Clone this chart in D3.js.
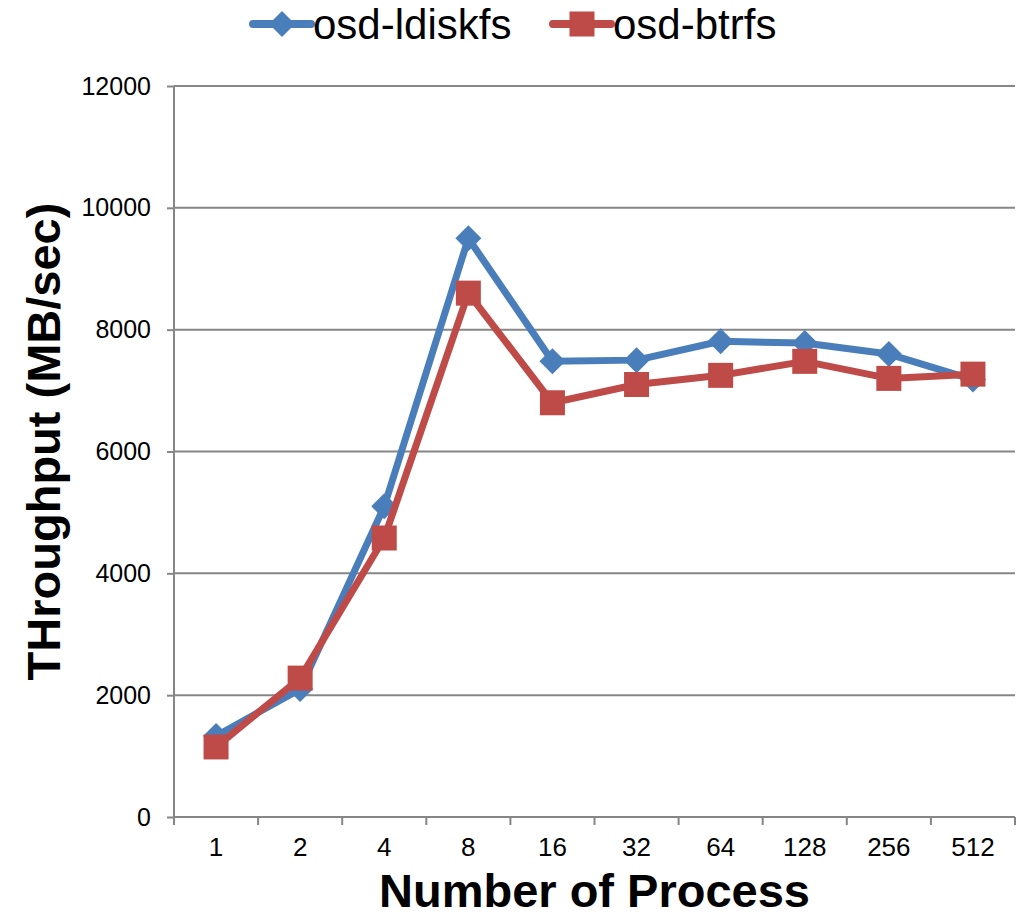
<!DOCTYPE html>
<html>
<head>
<meta charset="utf-8">
<script src="https://cdn.jsdelivr.net/npm/d3@7"></script>
<style>
  html, body { margin: 0; padding: 0; background: #fff; }
  svg { display: block; font-family: "Liberation Sans", Arial, sans-serif; }
</style>
</head>
<body>
<svg id="chart" width="1024" height="917"></svg>
<script>
// Throughput by number of processes
const categories = ["1", "2", "4", "8", "16", "32", "64", "128", "256", "512"];
const ldiskfs = [1330, 2100, 5100, 9500, 7480, 7500, 7810, 7780, 7600, 7180];
const btrfs   = [1150, 2280, 4580, 8600, 6800, 7100, 7250, 7480, 7200, 7270];
const yTicks  = [0, 2000, 4000, 6000, 8000, 10000, 12000];
const seriesNames = ["osd-ldiskfs", "osd-btrfs"];

const W = 1024, H = 917;
const plot = { left: 174, right: 1015, top: 86, bottom: 817 };
const gridColor = "#868686";
const colors = { "osd-ldiskfs": "#4A7EBB", "osd-btrfs": "#BE4B48" };

const svg = d3.select("#chart");

const x = d3.scaleBand().domain(categories).range([plot.left, plot.right]).padding(0);
const y = d3.scaleLinear().domain([0, 12000]).range([plot.bottom, plot.top]);
const cx = c => x(c) + x.bandwidth() / 2;

// horizontal gridlines
svg.append("g")
  .selectAll("line")
  .data(yTicks.filter(t => t > 0))
  .join("line")
  .attr("x1", plot.left).attr("x2", plot.right)
  .attr("y1", d => y(d)).attr("y2", d => y(d))
  .attr("stroke", gridColor).attr("stroke-width", 2);

// y axis
const yAxis = svg.append("g")
  .attr("transform", `translate(${plot.left},0)`)
  .call(d3.axisLeft(y).tickValues(yTicks).tickSize(7).tickPadding(16).tickFormat(d3.format("d")));
yAxis.select(".domain").attr("stroke", gridColor).attr("stroke-width", 2)
  .attr("d", `M0,${plot.top}V${plot.bottom}`);
yAxis.selectAll(".tick line").attr("stroke", gridColor).attr("stroke-width", 2);
yAxis.selectAll(".tick text")
  .attr("font-size", 25).attr("fill", "#000")
  .attr("font-family", '"Liberation Sans", Arial, sans-serif');

// x axis: ticks at category boundaries, labels at category centers
const xAxis = svg.append("g").attr("transform", `translate(0,${plot.bottom})`);
xAxis.append("line")
  .attr("x1", plot.left).attr("x2", plot.right)
  .attr("stroke", gridColor).attr("stroke-width", 2);
const boundaries = categories.map(c => x(c)).concat([plot.right]);
xAxis.selectAll("line.tick")
  .data(boundaries)
  .join("line").attr("class", "tick")
  .attr("x1", d => d).attr("x2", d => d)
  .attr("y1", 0).attr("y2", 8)
  .attr("stroke", gridColor).attr("stroke-width", 2);
xAxis.selectAll("text")
  .data(categories)
  .join("text")
  .attr("x", d => cx(d)).attr("y", 39)
  .attr("text-anchor", "middle")
  .attr("font-size", 26).attr("fill", "#000")
  .text(d => d);

// axis titles
svg.append("text")
  .attr("x", (plot.left + plot.right) / 2).attr("y", 907)
  .attr("text-anchor", "middle")
  .attr("font-size", 47).attr("font-weight", "bold")
  .text("Number of Process");

svg.append("text")
  .attr("transform", `translate(60,${(205 + 678) / 2}) rotate(-90)`)
  .attr("text-anchor", "middle")
  .attr("font-size", 47).attr("font-weight", "bold")
  .text("THroughput (MB/sec)");

// series
const series = [
  { name: seriesNames[0], values: ldiskfs, marker: "diamond" },
  { name: seriesNames[1], values: btrfs, marker: "square" }
];

const line = d3.line().x(d => cx(d.c)).y(d => y(d.v));

function drawMarker(g, type, color) {
  if (type === "diamond") {
    g.append("path").attr("d", "M0,-13L13,0L0,13L-13,0Z").attr("fill", color);
  } else {
    g.append("rect").attr("x", -12.5).attr("y", -12.5).attr("width", 25).attr("height", 25).attr("fill", color);
  }
}

series.forEach(s => {
  const pts = categories.map((c, i) => ({ c, v: s.values[i] }));
  const color = colors[s.name];
  svg.append("path")
    .datum(pts)
    .attr("d", line)
    .attr("fill", "none")
    .attr("stroke", color)
    .attr("stroke-width", 7)
    .attr("stroke-linejoin", "round")
    .attr("stroke-linecap", "round");
  pts.forEach(p => {
    const g = svg.append("g").attr("transform", `translate(${cx(p.c)},${y(p.v)})`);
    drawMarker(g, s.marker, color);
  });
});

// legend
const legendX = [253, 553];
series.forEach((s, i) => {
  const color = colors[s.name];
  const lg = svg.append("g").attr("transform", `translate(${legendX[i]},24)`);
  lg.append("line")
    .attr("x1", 0).attr("x2", 58)
    .attr("stroke", color).attr("stroke-width", 8).attr("stroke-linecap", "round");
  const m = lg.append("g").attr("transform", "translate(29,0)");
  drawMarker(m, s.marker, color);
  lg.append("text")
    .attr("x", 60).attr("y", 15)
    .attr("font-size", 42).attr("fill", "#000")
    .text(s.name);
});
</script>
</body>
</html>
